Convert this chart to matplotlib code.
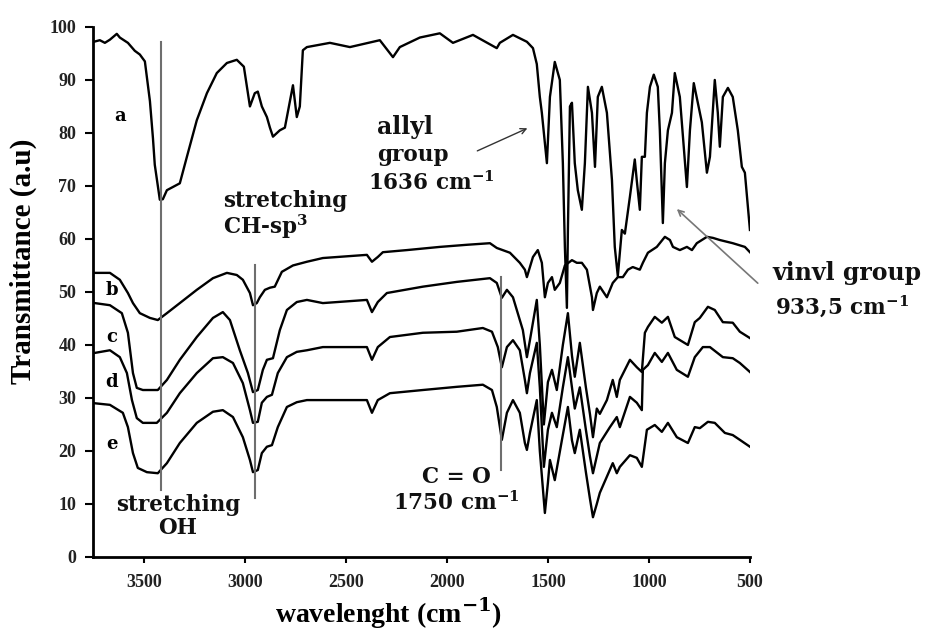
import numpy as np
import matplotlib
matplotlib.use('Agg')
import matplotlib.pyplot as plt

plt.rcParams['mathtext.fontset'] = 'custom'
plt.rcParams['mathtext.bf'] = 'DejaVu Serif:bold'
plt.rcParams['mathtext.rm'] = 'DejaVu Serif'

# --- spectra (wavenumber cm-1, transmittance) ---
wn_a = [3748, 3718, 3693, 3668, 3634, 3619, 3579, 3545, 3520, 3495, 3470, 3455, 3446, 3421, 3406,
        3386, 3322, 3287, 3238, 3188, 3139, 3089, 3040, 3005, 2975, 2951, 2936, 2916, 2891, 2876,
        2861, 2827, 2802, 2777, 2762, 2743, 2728, 2713, 2693, 2579, 2480, 2332, 2267, 2233, 2134,
        2035, 1970, 1871, 1753, 1738, 1673, 1604, 1574, 1555, 1540, 1530, 1505, 1490, 1466, 1441,
        1426, 1416, 1406, 1401, 1391, 1381, 1367, 1352, 1332, 1317, 1302, 1282, 1267, 1253, 1233,
        1208, 1183, 1169, 1154, 1134, 1119, 1094, 1070, 1060, 1045, 1035, 1020, 1010, 995, 976,
        956, 946, 931, 921, 906, 886, 872, 847, 812, 797, 778, 758, 738, 713, 698, 674, 659, 649,
        634, 609, 585, 560, 540, 525, 500]
t_a = [97.2, 97.5, 97.0, 97.6, 98.7, 98.0, 97.0, 95.5, 94.8, 93.5, 86, 79, 74, 67.4, 67.5,
       69.2, 70.5, 75.5, 82.4, 87.5, 91.3, 93.2, 93.8, 92.5, 85, 87.5, 87.8, 85, 83, 81,
       79.3, 80.5, 81, 86, 89, 83, 85, 95.6, 96.2, 97, 96.2, 97.5, 94.3, 96.2, 98,
       98.8, 97, 98.5, 96, 97, 98.5, 97.2, 96, 93, 86.8, 83.8, 74.3, 86.8, 93.4, 90,
       74.3, 58.5, 47, 61.7, 85, 85.7, 74.3, 69.2, 65.5, 74.3, 88.7, 83.8, 73.6, 86.8, 88.7,
       83.8, 71.1, 58.5, 53, 61.7, 61, 68, 75, 71, 65.5, 75.5, 75.5, 83.8, 88.7, 91,
       88.7, 80.5, 63, 74.3, 80.5, 83.8, 91.3, 86.8, 69.8, 80.5, 89.4, 85.7, 82, 72.5, 75.5, 90, 83.8, 77.4,
       86.8, 88.5, 86.8, 80.5, 73.6, 72.5, 61.7]

wn_b = [3743, 3668, 3619, 3579, 3554, 3520, 3470, 3431, 3386, 3322, 3238, 3158, 3089, 3040, 3010,
        2975, 2960, 2941, 2926, 2901, 2876, 2852, 2817, 2762, 2693, 2614, 2396, 2371, 2342, 2317,
        2198, 2035, 1901, 1787, 1753, 1688, 1639, 1614, 1604, 1574, 1550, 1530, 1515, 1500, 1480,
        1466, 1441, 1416, 1381, 1357, 1332, 1307, 1282, 1277, 1258, 1243, 1208, 1179, 1154, 1129,
        1104, 1080, 1045, 1030, 1005, 961, 921, 896, 881, 847, 812, 787, 763, 713, 683, 649, 585,
        525, 500]
t_b = [53.6, 53.6, 52.3, 49.8, 47.9, 46, 45.1, 44.7, 46, 47.9, 50.4, 52.6, 53.6, 53.2, 52.3,
       49.8, 47.5, 47.9, 49, 50.4, 50.8, 51, 53.8, 55, 55.7, 56.4, 57, 55.7, 56.6, 57.5,
       57.9, 58.5, 58.9, 59.2, 58.3, 57.4, 55.5, 54.2, 52.8, 56.6, 57.9, 55.5, 49, 51.7, 52.8,
       50.4, 51.7, 55, 56, 55.5, 55.5, 54.2, 49, 46.6, 49.8, 51, 49, 51.7, 52.8, 52.8,
       54.2, 54.7, 54.2, 55.5, 57.4, 58.5, 60.4, 59.8, 58.5, 57.9, 58.5, 57.9, 59.2, 60.4, 60.2, 59.8, 59.2,
       58.5, 57.5]

wn_c = [3743, 3668, 3609, 3579, 3554, 3535, 3505, 3431, 3386, 3322, 3238, 3158, 3109, 3074, 3025,
        2985, 2960, 2936, 2911, 2891, 2861, 2827, 2792, 2743, 2693, 2614, 2396, 2371, 2342, 2297,
        2119, 1951, 1787, 1753, 1728, 1703, 1673, 1624, 1604, 1589, 1555, 1540, 1520, 1500, 1480,
        1456, 1426, 1401, 1381, 1367, 1342, 1312, 1292, 1277, 1258, 1243, 1208, 1179, 1159, 1144,
        1094, 1060, 1035, 1020, 1005, 971, 936, 906, 872, 807, 773, 748, 708, 674, 634, 585, 550, 500]
t_c = [47.9, 47.5, 46, 42.3, 34.7, 31.9, 31.5, 31.5, 33.4, 37.2, 41.5, 45.1, 46.2, 44.7, 39,
       34.7, 31.1, 31.5, 35.3, 37.2, 37.5, 42.8, 46.6, 48.1, 48.5, 47.9, 48.5, 46.2, 48.1, 49.8,
       51, 51.9, 52.6, 51.7, 48.9, 50.4, 49, 42.8, 37.7, 40.9, 48.5, 40, 25, 33, 35.3,
       31.5, 40, 46, 38, 34, 40.4, 32, 27, 22.6, 28, 27, 29.6, 33.4, 30.2, 33.4,
       37.2, 35.8, 34.9, 42.3, 43.4, 45.3, 44.2, 45.3, 41.5, 40, 44.3, 45.1, 47.2, 46.6, 44.3, 44.2, 42.5, 41.3]

wn_d = [3743, 3668, 3619, 3584, 3559, 3535, 3505, 3436, 3386, 3322, 3238, 3158, 3109, 3059, 3010,
        2975, 2960, 2936, 2916, 2891, 2866, 2837, 2792, 2743, 2693, 2614, 2396, 2371, 2342, 2282,
        2119, 1951, 1822, 1777, 1748, 1728, 1703, 1673, 1639, 1614, 1604, 1589, 1555, 1540, 1520,
        1500, 1480, 1456, 1426, 1401, 1381, 1367, 1342, 1312, 1292, 1277, 1258, 1243, 1193, 1159,
        1144, 1094, 1060, 1035, 1030, 1005, 971, 936, 906, 862, 807, 773, 733, 698, 634, 585, 550, 500]
t_d = [38.5, 39, 37.7, 34.7, 29.6, 26.2, 25.3, 25.3, 27.2, 30.9, 34.7, 37.5, 37.7, 36.6, 32.8,
       27.7, 25.3, 25.5, 29.1, 30.2, 30.6, 34.7, 37.7, 38.7, 39, 39.6, 39.6, 37.2, 39.6, 41.5,
       42.3, 42.5, 43.2, 42.5, 39.6, 35.8, 39.6, 40.9, 39, 33.4, 30.9, 34.7, 40.4, 32, 17,
       24, 27.2, 24.5, 32, 37.7, 32, 28, 32, 24, 19, 15.8, 19, 21.5, 24.5, 26.4,
       24.5, 30.2, 29.1, 27.7, 35.3, 36.2, 38.5, 36.8, 38.5, 35.3, 34, 37.7, 39.6, 39.6, 37.7, 37.5, 36.6, 34.9]

wn_e = [3743, 3668, 3604, 3579, 3554, 3530, 3485, 3431, 3386, 3322, 3238, 3158, 3109, 3059, 3010,
        2975, 2960, 2936, 2916, 2891, 2866, 2837, 2792, 2743, 2693, 2614, 2396, 2371, 2342, 2282,
        2119, 1951, 1822, 1777, 1753, 1728, 1703, 1673, 1639, 1614, 1604, 1589, 1555, 1540, 1515,
        1500, 1490, 1466, 1431, 1401, 1381, 1367, 1342, 1312, 1292, 1277, 1258, 1243, 1179, 1159,
        1144, 1094, 1060, 1035, 1010, 971, 936, 906, 862, 807, 773, 748, 708, 674, 624, 585, 550, 500]
t_e = [29, 28.7, 27.2, 24.5, 19.6, 16.8, 16, 15.8, 17.7, 21.5, 25.3, 27.4, 27.7, 26.4, 22.6,
       18.3, 16, 16.4, 19.6, 20.8, 21.1, 24.5, 28.3, 29.2, 29.6, 29.6, 29.6, 27.2, 29.6, 30.9,
       31.5, 32.1, 32.5, 31.5, 28.3, 22.1, 27.2, 29.6, 27.2, 21.5, 20.2, 23.4, 29.6, 20, 8.3,
       14, 18.3, 14.5, 22, 28.3, 22, 19.6, 24, 16, 11, 7.5, 10, 12.1, 17.7, 15.8,
       17, 19.2, 18.7, 17, 24, 24.9, 23.6, 25.3, 22.6, 21.5, 24.5, 24.3, 25.5, 25.3, 23.4, 23, 22.1, 20.8]

curve_labels = ['a', 'b', 'c', 'd', 'e']
curve_label_pos = [(3619, 83.2), (3658, 50.4), (3658, 41.5), (3658, 33.0), (3658, 21.3)]
x_ticks = [3500, 3000, 2500, 2000, 1500, 1000, 500]
y_ticks = [0, 10, 20, 30, 40, 50, 60, 70, 80, 90, 100]

fig = plt.figure(figsize=(9.38, 6.34), dpi=100)
ax = fig.add_axes([0.0991, 0.1215, 0.7004, 0.836])

for wn, t in [(wn_a, t_a), (wn_b, t_b), (wn_c, t_c), (wn_d, t_d), (wn_e, t_e)]:
    ax.plot(wn, t, color='black', lw=1.7, solid_joinstyle='round')

# marker lines
mark_col = '#6e6e6e'
ax.plot([3416, 3416], [97.2, 12.6], color=mark_col, lw=1.5)
ax.plot([2950, 2950], [55.1, 11.1], color=mark_col, lw=1.5)
ax.plot([1730, 1730], [52.8, 16.4], color=mark_col, lw=1.5)

ax.set_xlim(3752, 500)
ax.set_ylim(0, 100)
ax.set_xticks(x_ticks)
ax.set_yticks(y_ticks)
for s in ['top', 'right']:
    ax.spines[s].set_visible(False)
for s in ['left', 'bottom']:
    ax.spines[s].set_linewidth(2)
ax.tick_params(axis='y', direction='out', length=6, width=1.5, pad=6, labelcolor='#222222')
ax.tick_params(axis='x', direction='out', length=4, width=1.5, pad=8, labelcolor='#222222')
for lab in ax.get_xticklabels() + ax.get_yticklabels():
    lab.set_family('Liberation Serif')
    lab.set_fontweight('bold')
    lab.set_fontsize(13)

ax.set_ylabel('Transmittance (a.u)', family='Liberation Serif', fontweight='bold', fontsize=21)
ax.yaxis.set_label_coords(-0.085, 0.558)
ax.set_xlabel(r'wavelenght (cm$^{\mathbf{-1}}$)', family='Liberation Serif', fontweight='bold', fontsize=20)
ax.xaxis.set_label_coords(0.45, -0.072)

tfont = dict(family='DejaVu Serif', fontweight='bold', fontsize=15.5, color='#111111')
for lab, (x, y) in zip(curve_labels, curve_label_pos):
    ax.text(x, y, lab, ha='center', va='center', family='DejaVu Serif', fontweight='bold', fontsize=13)

ax.text(3332, 7.6, 'stretching\nOH', ha='center', va='center', linespacing=1.05, **tfont)
ax.text(3109, 64.4, 'stretching\n' + r'CH-sp$^{\mathbf{3}}$', ha='left', va='center',
        linespacing=1.0, **tfont)
ax.text(2347, 81.1, 'allyl', ha='left', va='center', family='DejaVu Serif', fontweight='bold',
        fontsize=17, color='#111111')
ax.text(2347, 75.8, 'group', ha='left', va='center', **tfont)
ax.text(2391, 70.6, r'1636 cm$^{\mathbf{-1}}$', ha='left', va='center', **tfont)
ax.annotate('', xy=(1589, 81.1), xytext=(1862, 76.4),
            arrowprops=dict(arrowstyle='->', color='#333333', lw=1.0))
ax.text(1951, 15.1, 'C = O', ha='center', va='center', **tfont)
ax.text(2267, 10.2, r'1750 cm$^{\mathbf{-1}}$', ha='left', va='center', **tfont)
ax.text(391, 53.6, 'vinvl group', ha='left', va='center', clip_on=False,
        family='DejaVu Serif', fontweight='bold', fontsize=17, color='#111111')
ax.text(377, 47.2, r'933,5 cm$^{\mathbf{-1}}$', ha='left', va='center', clip_on=False, **tfont)
ax.annotate('', xy=(872, 66.0), xytext=(451, 51.3), annotation_clip=False,
            arrowprops=dict(arrowstyle='->', color='#777777', lw=1.2))

fig.savefig('out.png', dpi=100)
